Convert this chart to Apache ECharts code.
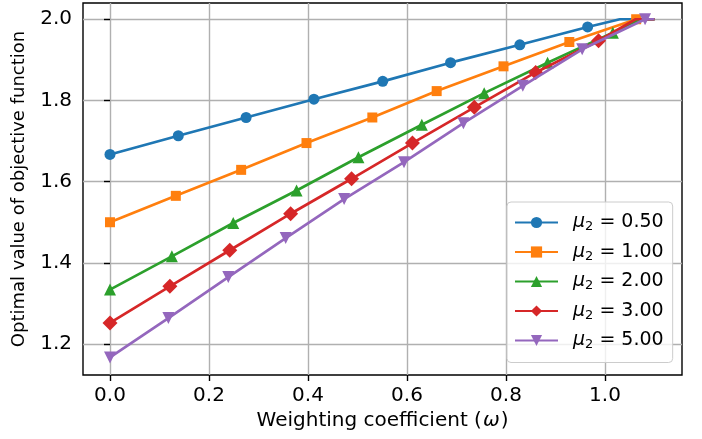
<!DOCTYPE html>
<html>
    <head>
        <meta charset="utf-8">
        <title>Optimal value vs weighting coefficient</title>
        <script src="https://cdn.jsdelivr.net/npm/echarts@6/dist/echarts.min.js"></script>
        <style>body{margin:0;} #main{width:702px;height:439px;}</style>
    </head>
    <body>
        <div id="main"></div>
        <script type="text/javascript">
            // values, one pair of arrays per curve (marker points)
            var xBlue = [0, 0.138, 0.275, 0.412, 0.551, 0.688, 0.828, 0.965];
            var yBlue = [1.667, 1.713, 1.758, 1.803, 1.847, 1.893, 1.937, 1.981];
            var xOrange = [0, 0.133, 0.265, 0.397, 0.530, 0.660, 0.795, 0.928, 1.063];
            var yOrange = [1.500, 1.565, 1.629, 1.695, 1.758, 1.823, 1.884, 1.944, 2.0];
            var xGreen = [0, 0.125, 0.249, 0.377, 0.502, 0.630, 0.756, 0.884, 1.016];
            var yGreen = [1.334, 1.416, 1.498, 1.578, 1.660, 1.740, 1.818, 1.893, 1.967];
            var xRed = [0, 0.121, 0.242, 0.365, 0.488, 0.611, 0.736, 0.860, 0.987];
            var yRed = [1.252, 1.342, 1.431, 1.521, 1.607, 1.695, 1.783, 1.869, 1.947];
            var xPurple = [0, 0.118, 0.239, 0.355, 0.473, 0.594, 0.714, 0.834, 0.954, 1.081];
            var yPurple = [1.167, 1.264, 1.365, 1.461, 1.557, 1.648, 1.744, 1.836, 1.926, 2.0];
            // line continues (no marker) after saturating at 2.0
            var tailX = [[1.03, 1.10], [1.10], [1.07, 1.10], [1.062, 1.10], [1.10]];
            var tailY = [[2.0, 2.0], [2.0], [2.0, 2.0], [2.0, 2.0], [2.0]];

            var names = ['0.50', '1.00', '2.00', '3.00', '5.00'];
            var xTicks = [0, 0.2, 0.4, 0.6, 0.8, 1.0];
            var yTicks = [1.2, 1.4, 1.6, 1.8, 2.0];

            var xs = [xBlue, xOrange, xGreen, xRed, xPurple];
            var ys = [yBlue, yOrange, yGreen, yRed, yPurple];
            var colors = ['#1f77b4', '#ff7f0e', '#2ca02c', '#d62728', '#9467bd'];
            var symbols = ['circle', 'rect', 'triangle', 'diamond', 'triangle'];
            var sizes = [11, 10, 12, 15, 12];
            var rotates = [0, 0, 0, 0, 180];

            var font = 'DejaVu Sans';
            var Series = [];
            for (var i = 0; i < names.length; i++) {
                var d = xs[i].map(function (x, j) { return [x, ys[i][j]]; });
                for (var k = 0; k < tailX[i].length; k++) {
                    d.push({value: [tailX[i][k], tailY[i][k]], symbol: 'none'});
                }
                Series.push({
                    name: names[i],
                    type: 'line',
                    data: d,
                    color: colors[i],
                    symbol: symbols[i],
                    symbolSize: sizes[i],
                    symbolRotate: rotates[i],
                    showAllSymbol: true,
                    lineStyle: {width: 2.7, color: colors[i]},
                    itemStyle: {color: colors[i]},
                    z: 3 + i
                });
            }

            var myChart = echarts.init(document.getElementById('main'), null, {renderer: 'canvas'});
            var option = {
                animation: false,
                backgroundColor: '#fff',
                grid: {left: 83, right: 20, top: 3, bottom: 64, show: true,
                       borderColor: '#000', borderWidth: 1.4, backgroundColor: 'transparent'},
                legend: {
                    orient: 'vertical', left: 507, top: 202,
                    data: names,
                    itemWidth: 43, itemHeight: 14, itemGap: 9,
                    padding: [11, 9, 11, 7],
                    backgroundColor: 'rgba(255,255,255,0.8)',
                    borderColor: '#cccccc', borderWidth: 1, borderRadius: 4,
                    symbolRotate: 'inherit',
                    formatter: function (n) { return '{m|μ}{s|2}{t| = ' + n + '}'; },
                    textStyle: {
                        fontFamily: font, fontSize: 19, color: '#000', padding: [0, 0, 0, 10],
                        rich: {
                            m: {fontFamily: font, fontSize: 19, fontStyle: 'italic', lineHeight: 22, color: '#000'},
                            s: {fontFamily: font, fontSize: 13, lineHeight: 13, verticalAlign: 'bottom', color: '#000'},
                            t: {fontFamily: font, fontSize: 19, lineHeight: 22, color: '#000'}
                        }
                    }
                },
                xAxis: {
                    type: 'value', min: -0.0545, max: 1.1556,
                    name: '{a|Weighting coefficient (}{w|ω}{a|)}', nameLocation: 'middle', nameGap: 35,
                    nameTextStyle: {fontFamily: font, fontSize: 20, color: '#000',
                        rich: {a: {fontFamily: font, fontSize: 20, color: '#000'},
                               w: {fontFamily: font, fontSize: 20, fontStyle: 'italic', color: '#000', padding: [0, 1, 0, 1]}}},
                    axisLine: {show: false},
                    axisTick: {show: true, length: 6, customValues: xTicks,
                               lineStyle: {color: '#000', width: 1.4}},
                    axisLabel: {customValues: xTicks, margin: 11, fontFamily: font, fontSize: 20, color: '#000',
                                formatter: function (v) { return v.toFixed(1); }},
                    splitLine: {show: true, lineStyle: {color: '#b0b0b0', width: 1.4}}
                },
                yAxis: {
                    type: 'value', min: 1.1237, max: 2.040,
                    name: 'Optimal value of objective function', nameLocation: 'middle', nameGap: 55,
                    nameTextStyle: {fontFamily: font, fontSize: 18, color: '#000'},
                    axisLine: {show: false},
                    axisTick: {show: true, length: 6, customValues: yTicks,
                               lineStyle: {color: '#000', width: 1.4}},
                    axisLabel: {customValues: yTicks, margin: 11, fontFamily: font, fontSize: 20, color: '#000',
                                formatter: function (v) { return v.toFixed(1); }},
                    splitLine: {show: true, lineStyle: {color: '#b0b0b0', width: 1.4}}
                },
                series: Series
            };
            myChart.setOption(option);
        </script>
    </body>
</html>
